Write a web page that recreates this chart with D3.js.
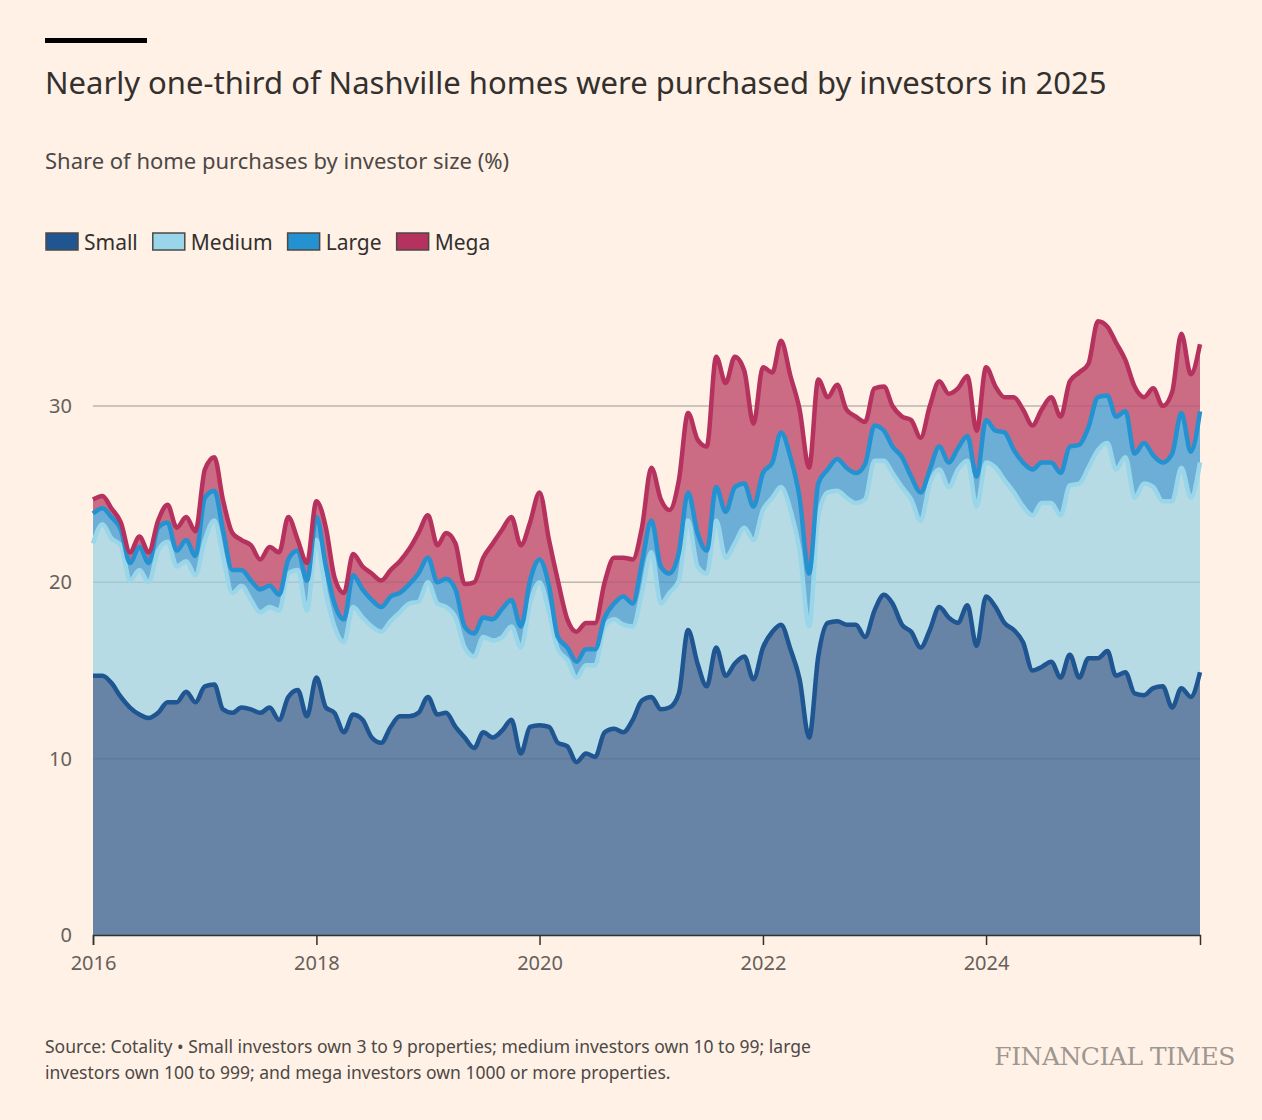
<!DOCTYPE html>
<html>
<head>
<meta charset="utf-8">
<script src="https://cdn.jsdelivr.net/npm/d3@7"></script>
<style>
  body { margin: 0; background: #fff1e5; }
  svg { display: block; font-family: "Noto Sans", sans-serif; }
</style>
</head>
<body>
<svg id="chart" width="1262" height="1120"></svg>
<script>
'use strict';

// monthly shares (%), Jan 2016 .. Dec 2025
var small = [
  14.7,14.7,14.3,13.5,12.9,12.5,12.3,12.6,13.2,13.2,13.8,13.2,
  14.1,14.2,12.8,12.6,12.9,12.8,12.6,12.9,12.2,13.5,13.9,12.4,
  14.6,12.9,12.6,11.5,12.5,12.2,11.2,10.9,11.8,12.4,12.4,12.6,
  13.5,12.5,12.6,11.8,11.2,10.6,11.5,11.2,11.6,12.2,10.3,11.8,
  11.9,11.8,10.9,10.7,9.8,10.3,10.1,11.5,11.7,11.5,12.2,13.3,
  13.5,12.8,12.9,13.7,17.3,15.4,14.1,16.3,14.7,15.4,15.8,14.5,
  16.3,17.2,17.6,16.2,14.5,11.2,15.8,17.7,17.8,17.6,17.6,16.9,
  18.4,19.3,18.8,17.6,17.2,16.3,17.3,18.6,18.0,17.7,18.7,16.4,
  19.2,18.6,17.7,17.3,16.6,15.0,15.2,15.5,14.6,15.9,14.6,15.7,
  15.7,16.1,14.7,14.9,13.7,13.6,14.0,14.1,12.9,14.0,13.5,14.9
];
var medium = [
  7.5,8.6,8.2,8.6,7.2,8.2,7.7,9.2,9.1,7.7,7.4,7.2,
  8.3,9.3,8.7,6.8,6.9,6.2,5.7,5.7,6.2,7.0,6.8,6.0,
  7.8,6.5,4.9,5.1,6.1,5.8,6.3,6.3,6.0,5.9,6.4,6.3,
  6.5,6.3,6.0,6.2,5.1,5.2,5.4,5.5,5.3,5.3,6.0,7.0,
  8.1,6.5,5.3,4.9,4.8,5.0,5.2,6.0,6.2,6.1,5.3,6.1,
  8.2,6.0,6.5,6.4,6.2,5.5,6.4,7.2,6.7,6.8,7.3,7.9,
  7.8,7.6,7.8,7.9,7.3,6.3,7.9,7.4,7.4,7.2,6.9,7.8,
  8.5,7.6,7.4,7.8,7.5,7.2,8.3,7.8,7.4,8.7,8.2,7.9,
  7.6,7.9,8.1,7.8,7.7,8.8,9.3,9.0,9.2,9.6,11.0,10.8,
  11.8,11.8,11.7,12.2,11.1,12.0,11.4,10.5,11.7,12.5,11.3,11.9
];
var large = [
  1.7,0.9,1.2,0.9,1.0,1.3,1.1,1.3,1.1,0.9,1.2,1.1,
  2.4,1.7,1.5,1.3,0.9,1.1,1.3,1.2,0.9,0.8,1.1,1.7,
  1.3,1.5,1.3,1.3,1.8,1.6,1.5,1.4,1.4,1.1,1.1,1.6,
  1.4,1.2,1.6,1.6,1.2,1.3,1.1,1.2,1.6,1.5,1.2,1.3,
  1.3,1.5,0.7,0.7,0.9,0.9,0.9,0.5,0.9,1.6,1.3,1.7,
  1.8,2.1,1.1,1.6,1.6,1.9,1.3,1.9,2.6,3.2,2.5,1.9,
  2.1,2.0,3.1,3.0,3.0,3.0,1.9,1.3,1.8,1.7,1.7,2.0,
  2.0,1.7,1.5,1.7,1.3,1.6,0.8,1.3,1.4,1.2,1.4,1.7,
  2.4,2.1,2.7,2.4,2.5,2.6,2.3,2.3,2.4,2.2,2.2,2.3,
  3.0,2.7,3.0,2.6,2.5,2.3,1.8,2.2,2.7,3.1,2.6,2.9
];
var mega = [
  0.8,0.7,0.5,0.4,0.6,0.6,0.6,0.4,1.0,1.3,1.3,1.4,
  1.6,1.9,1.7,2.1,1.7,2.0,1.7,2.2,2.4,2.4,0.6,1.0,
  0.9,2.2,1.5,1.5,1.2,1.3,1.5,1.5,1.5,1.8,2.0,2.3,
  2.4,2.1,2.6,2.6,2.4,2.9,3.4,4.3,4.5,4.7,4.6,3.3,
  3.8,2.6,3.2,1.6,1.7,1.5,1.5,2.0,2.6,2.2,2.5,2.0,
  3.0,3.8,3.6,4.1,4.5,5.3,5.9,7.4,7.3,7.4,6.4,4.7,
  6.0,5.1,5.2,4.6,5.0,6.0,5.9,4.1,4.2,3.3,3.2,2.4,
  2.1,2.5,2.3,2.3,3.2,3.1,3.6,3.7,3.9,3.4,3.4,2.6,
  3.0,2.5,2.0,3.0,3.0,2.5,3.0,3.7,3.2,3.7,4.1,3.6,
  4.3,3.9,4.2,2.9,3.8,2.6,3.8,3.2,3.5,4.5,4.4,3.8
];

var seriesNames = ['Small', 'Medium', 'Large', 'Mega'];
var fills = ['#6783a6', '#b7dbe4', '#6caed6', '#cc6b84'];
var strokes = ['#1f5591', '#9ad6ea', '#2491d0', '#b5325f'];
var yTicks = [0, 10, 20, 30];
var xTickYears = [2016, 2018, 2020, 2022, 2024];

var dates = small.map(function (d, i) { return new Date(2016, i, 1); });
var table = dates.map(function (d, i) {
  return { date: d, Small: small[i], Medium: medium[i], Large: large[i], Mega: mega[i] };
});

var svg = d3.select('#chart');
var ink = '#33302e';

var x = d3.scaleTime().domain([dates[0], dates[dates.length - 1]]).range([93, 1200]);
var y = d3.scaleLinear().domain([0, 30]).range([935, 406]);

var stacked = d3.stack().keys(seriesNames)(table);

var area = d3.area()
  .x(function (d) { return x(d.data.date); })
  .y0(function (d) { return y(d[0]); })
  .y1(function (d) { return y(d[1]); })
  .curve(d3.curveMonotoneX);
var line = d3.line()
  .x(function (d) { return x(d.data.date); })
  .y(function (d) { return y(d[1]); })
  .curve(d3.curveMonotoneX);

// grid under chart
svg.append('g').selectAll('line').data(yTicks.slice(1)).join('line')
  .attr('x1', 93).attr('x2', 1200)
  .attr('y1', function (d) { return y(d); }).attr('y2', function (d) { return y(d); })
  .attr('stroke', '#d4c8be').attr('stroke-width', 1.5);

svg.append('g').selectAll('path').data(stacked).join('path')
  .attr('d', area)
  .attr('fill', function (d, i) { return fills[i]; });

// grid shows faintly through the areas
svg.append('g').selectAll('line').data(yTicks.slice(1)).join('line')
  .attr('x1', 93).attr('x2', 1200)
  .attr('y1', function (d) { return y(d); }).attr('y2', function (d) { return y(d); })
  .attr('stroke', 'rgba(40,60,80,0.12)').attr('stroke-width', 1.5);

svg.append('g').selectAll('path').data(stacked).join('path')
  .attr('d', line)
  .attr('fill', 'none')
  .attr('stroke', function (d, i) { return strokes[i]; })
  .attr('stroke-width', 4.5)
  .attr('stroke-linejoin', 'round');

// y axis labels
svg.append('g').selectAll('text').data(yTicks).join('text')
  .attr('x', 72).attr('y', function (d) { return y(d) + 7; })
  .attr('text-anchor', 'end')
  .attr('font-size', 20).attr('fill', '#66605c')
  .text(function (d) { return d; });

// x axis
var xAxis = svg.append('g').attr('transform', 'translate(0,935)')
  .call(d3.axisBottom(x)
    .tickValues(xTickYears.map(function (yr) { return new Date(yr, 0, 1); }))
    .tickFormat(d3.timeFormat('%Y'))
    .tickSize(10));
xAxis.select('.domain').attr('stroke', ink).attr('stroke-width', 1.5);
xAxis.selectAll('.tick line').attr('stroke', ink).attr('stroke-width', 1.5);
xAxis.selectAll('.tick text')
  .attr('font-family', '"Noto Sans", sans-serif')
  .attr('font-size', 20).attr('fill', '#66605c').attr('dy', '1.1em');

// header
svg.append('rect').attr('x', 45).attr('y', 38).attr('width', 102).attr('height', 5).attr('fill', '#000');
svg.append('text').attr('x', 45).attr('y', 94)
  .attr('font-size', 31).attr('fill', ink)
  .text('Nearly one-third of Nashville homes were purchased by investors in 2025');
svg.append('text').attr('x', 45).attr('y', 169)
  .attr('font-size', 22).attr('fill', '#4d4845')
  .text('Share of home purchases by investor size (%)');

// legend
var lg = svg.append('g').attr('transform', 'translate(45,232)');
var lx = 0;
seriesNames.forEach(function (name, i) {
  var g = lg.append('g').attr('transform', 'translate(' + lx + ',0)');
  g.append('rect').attr('x', 1).attr('y', 1).attr('width', 32).attr('height', 17)
    .attr('fill', strokes[i]).attr('stroke', '#4d4845').attr('stroke-width', 1.5);
  var t = g.append('text').attr('x', 39).attr('y', 18)
    .attr('font-size', 21).attr('fill', ink).text(name);
  lx += 39 + t.node().getComputedTextLength() + 14;
});

// footer
svg.append('text').attr('x', 45).attr('y', 1053)
  .attr('font-size', 17.5).attr('fill', '#4d4845')
  .text('Source: Cotality \u2022 Small investors own 3 to 9 properties; medium investors own 10 to 99; large');
svg.append('text').attr('x', 45).attr('y', 1079)
  .attr('font-size', 17.5).attr('fill', '#4d4845')
  .text('investors own 100 to 999; and mega investors own 1000 or more properties.');
svg.append('text').attr('x', 1235).attr('y', 1065)
  .attr('text-anchor', 'end')
  .attr('font-family', '"DejaVu Serif", "Liberation Serif", serif')
  .attr('font-size', 25).attr('fill', '#9e9690').attr('letter-spacing', -0.5)
  .text('FINANCIAL TIMES');
</script>
</body>
</html>
